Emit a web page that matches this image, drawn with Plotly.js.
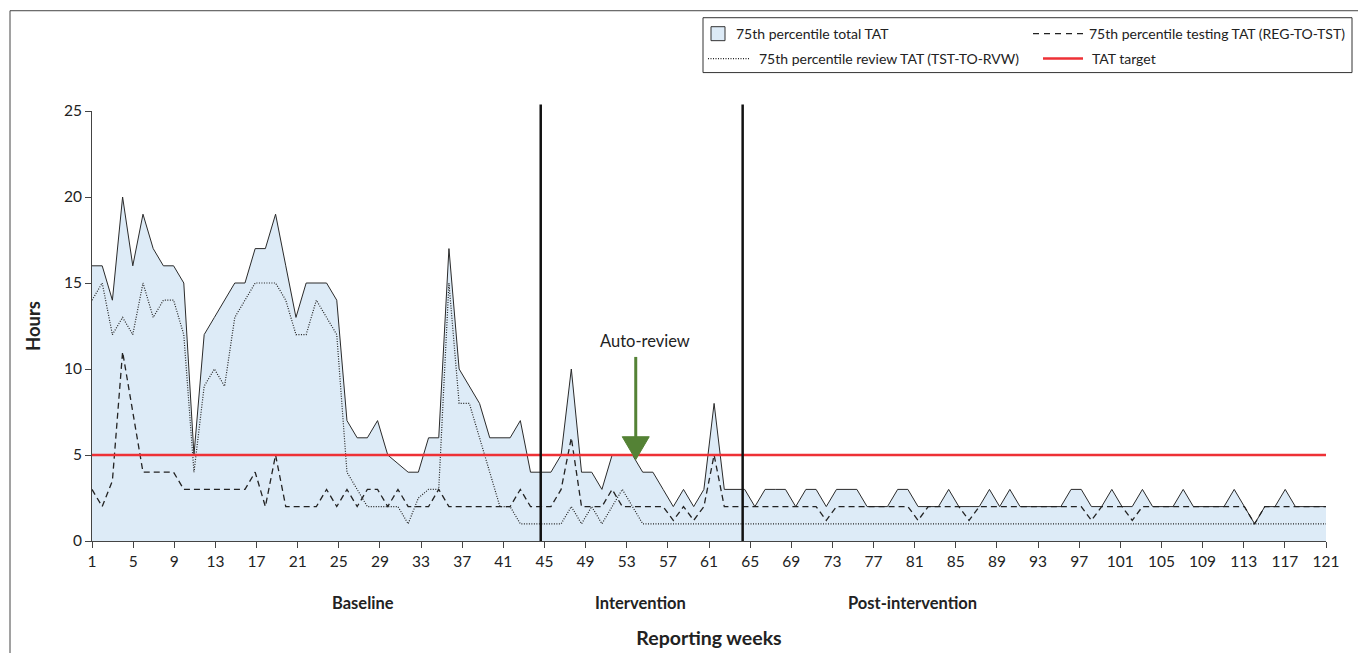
<!DOCTYPE html>
<html>
<head>
<meta charset="utf-8">
<script src="https://cdn.plot.ly/plotly-3.0.1.min.js"></script>
<style>html,body{margin:0;padding:0;background:#fff;}#chart{width:1358px;height:653px;}</style>
</head>
<body>
<div id="chart"></div>
<script>
// ---- Data (hours, 75th percentile per reporting week) ----
const totalTAT = [
  16,16,14,20,16,19,17,16,16,15,
  5,12,13,14,15,15,17,17,19,16,
  13,15,15,15,14,7,6,6,7,5,
  4.5,4,4,6,6,17,10,9,8,6,
  6,6,7,4,4,4,5,10,4,4,
  3,5,5,5,4,4,3,2,3,2,
  3,8,3,3,3,2,3,3,3,2,
  3,3,2,3,3,3,2,2,2,3,
  3,2,2,2,3,2,2,2,3,2,
  3,2,2,2,2,2,3,3,2,2,
  3,2,2,3,2,2,2,3,2,2,
  2,2,3,2,1,2,2,3,2,2,
  2,2
];
const testingTAT = [
  3,2,3.5,11,7.5,4,4,4,4,3,
  3,3,3,3,3,3,4,2,5,2,
  2,2,2,3,2,3,2,3,3,2,
  3,2,2,2,3,2,2,2,2,2,
  2,2,3,2,2,2,3,6,2,2,
  2,3,2,2,2,2,2,1.2,2,1.2,
  2,5,2,2,2,2,2,2,2,2,
  2,2,1.2,2,2,2,2,2,2,2,
  2,1.2,2,2,2,2,1.2,2,2,2,
  2,2,2,2,2,2,2,2,1.2,2,
  2,2,1.2,2,2,2,2,2,2,2,
  2,2,2,2,1,2,2,2,2,2,
  2,2
];
const reviewTAT = [
  14,15,12,13,12,15,13,14,14,12,
  4,9,10,9,13,14,15,15,15,14,
  12,12,14,13,12,4,3,2,2,2,
  2,1,2.5,3,3,15,8,8,6,4,
  2,2,1,1,1,1,1,2,1,2,
  1,2,3,2,1,1,1,1,1,1,
  1,1,1,1,1,1,1,1,1,1,
  1,1,1,1,1,1,1,1,1,1,
  1,1,1,1,1,1,1,1,1,1,
  1,1,1,1,1,1,1,1,1,1,
  1,1,1,1,1,1,1,1,1,1,
  1,1,1,1,1,1,1,1,1,1,
  1,1
];
const targetTAT = 5;
const xTickLabels = [1,5,9,13,17,21,25,29,33,37,41,45,49,53,57,61,65,69,73,77,81,85,89,93,97,101,105,109,113,117,121];
const yTickValues = [0,5,10,15,20,25];
const phaseBoundaries = [45, 64.8];
const phaseNames = ["Baseline", "Intervention", "Post-intervention"];
const autoReviewWeek = 54.3;
const seriesNames = [
  "75th percentile total TAT",
  "75th percentile testing TAT (REG-TO-TST)",
  "75th percentile review TAT (TST-TO-RVW)",
  "TAT target"
];

// ---- Build ----
const weeks = totalTAT.map((_, i) => i + 1);
const nWeeks = weeks.length;
// tick labels spread evenly across the full category span, as in the source chart
const tickPos = xTickLabels.map(L => 1 + (L - 1) * (nWeeks - 1) / (xTickLabels[xTickLabels.length - 1] - 1));

const FONT = "Lato, 'Open Sans', sans-serif";
const INK = "#222";
const L = 92, R = 1326, T = 110.5, B = 541.5;
const px = x => (x - L) / (R - L);
const py = y => (B - y) / (B - T);

const traces = [
  {x: weeks, y: totalTAT, type: "scatter", mode: "lines", name: seriesNames[0],
   fill: "tozeroy", fillcolor: "#ddebf7", line: {color: "#2a2a2a", width: 1}},
  {x: weeks, y: testingTAT, type: "scatter", mode: "lines", name: seriesNames[1],
   line: {color: INK, width: 1.3, dash: "6px,4px"}},
  {x: weeks, y: reviewTAT, type: "scatter", mode: "lines", name: seriesNames[2],
   line: {color: INK, width: 1.2, dash: "1px,1.5px"}},
  {x: weeks, y: weeks.map(() => targetTAT), type: "scatter", mode: "lines", name: seriesNames[3],
   line: {color: "#ee3136", width: 2.5}}
];

const shapes = [];
// phase boundaries
phaseBoundaries.forEach(b => shapes.push({type: "line", xref: "x", yref: "paper", x0: b, x1: b, y0: 0, y1: 1.015,
  line: {color: "#111", width: 2.5}, layer: "above"}));
// outer frame
shapes.push({type: "line", xref: "paper", yref: "paper", x0: px(10), x1: px(10), y0: py(10), y1: py(660), line: {color: "#444", width: 1}});
shapes.push({type: "line", xref: "paper", yref: "paper", x0: px(10), x1: px(1360), y0: py(10), y1: py(10), line: {color: "#444", width: 1}});
// legend box
shapes.push({type: "rect", xref: "paper", yref: "paper", x0: px(703), x1: px(1352), y0: py(17), y1: py(72), line: {color: "#333", width: 1}, fillcolor: "#fff"});
shapes.push({type: "rect", xref: "paper", yref: "paper", x0: px(711), x1: px(725), y0: py(26), y1: py(40), line: {color: "#333", width: 1}, fillcolor: "#ddebf7"});
shapes.push({type: "line", xref: "paper", yref: "paper", x0: px(1033), x1: px(1083), y0: py(33), y1: py(33), line: {color: INK, width: 1.3, dash: "6px,5px"}});
shapes.push({type: "line", xref: "paper", yref: "paper", x0: px(708), x1: px(750), y0: py(58), y1: py(58), line: {color: INK, width: 1.2, dash: "1px,1.5px"}});
shapes.push({type: "line", xref: "paper", yref: "paper", x0: px(1043), x1: px(1083), y0: py(58), y1: py(58), line: {color: "#ee3136", width: 2.5}});
// auto-review arrow
const ax = 92.3 + (autoReviewWeek - 1) * (R - 92.3) / (nWeeks - 1);
shapes.push({type: "line", xref: "paper", yref: "paper", x0: px(ax), x1: px(ax), y0: py(357), y1: py(438), line: {color: "#548235", width: 3}, layer: "above"});
shapes.push({type: "path", xref: "paper", yref: "paper", layer: "above",
  path: `M ${px(ax-13.5)} ${py(437)} L ${px(ax+13.5)} ${py(437)} L ${px(ax)} ${py(460)} Z`,
  fillcolor: "#548235", line: {color: "#548235", width: 1}});

const ann = [];
const txt = (x, y, text, opts) => ann.push(Object.assign({xref: "paper", yref: "paper", x: px(x), y: py(y), text: text,
  showarrow: false, font: {family: FONT, size: 14, color: INK}, xanchor: "left", yanchor: "middle"}, opts || {}));
txt(734, 33, seriesNames[0]);
txt(1087, 33, seriesNames[1]);
txt(757, 58, seriesNames[2]);
txt(1090, 58, seriesNames[3]);
txt(ax + 9, 341, "Auto-review", {xanchor: "center", font: {family: FONT, size: 16.5, color: INK}});
const phaseX = [363, 640, 912];
phaseNames.forEach((n, i) => txt(phaseX[i], 604, "<b>" + n + "</b>", {xanchor: "center", font: {family: FONT, size: 16.5, color: INK}}));

const layout = {
  width: 1358, height: 653,
  margin: {l: L, r: 1358 - R, t: T, b: 653 - B, pad: 0},
  paper_bgcolor: "#fff", plot_bgcolor: "#fff",
  showlegend: false,
  font: {family: FONT, size: 14, color: INK},
  xaxis: {range: [1, nWeeks], tickmode: "array", tickvals: tickPos, ticktext: xTickLabels.map(String),
    showgrid: false, zeroline: false, showline: true, linecolor: "#444", linewidth: 1,
    ticks: "outside", ticklen: 6, tickcolor: "#444", tickfont: {family: FONT, size: 15.5, color: INK},
    title: {text: "<b>Reporting weeks</b>", font: {family: FONT, size: 19.5, color: INK}, standoff: 62}},
  yaxis: {range: [0, 25], tickmode: "array", tickvals: yTickValues, ticktext: yTickValues.map(String),
    showgrid: false, zeroline: false, showline: true, linecolor: "#444", linewidth: 1,
    ticks: "outside", ticklen: 6, tickcolor: "#444", tickfont: {family: FONT, size: 15.5, color: INK},
    title: {text: "<b>Hours</b>", font: {family: FONT, size: 18.5, color: INK}, standoff: 18}},
  shapes: shapes,
  annotations: ann
};

Plotly.newPlot("chart", traces, layout, {staticPlot: true, displayModeBar: false});
</script>
</body>
</html>
